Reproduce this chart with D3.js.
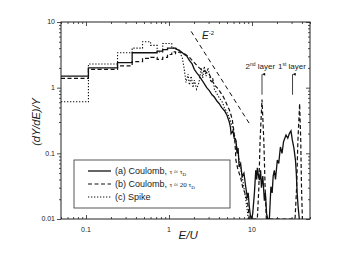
<!DOCTYPE html>
<html>
<head>
<meta charset="utf-8">
<script src="https://cdn.jsdelivr.net/npm/d3@7"></script>
<style>
body { margin: 0; background: #fff; }
svg { display: block; }
text, tspan { font-family: "Liberation Sans", Arial, sans-serif; fill: #1a1a1a; }
</style>
</head>
<body>
<div id="chart"></div>
<script>
// histogram part (bin edges in E/U, values in (dY/dE)/Y)
var binEdges = [0.05, 0.107, 0.24, 0.36, 0.48, 0.6, 0.72, 0.84, 0.96, 1.08, 1.2];
var histA = [1.5, 2.0, 2.4, 3.4, 3.4, 3.4, 3.6, 3.8, 4.0, 4.0];
var histB = [1.39, 1.9, 2.15, 2.5, 2.8, 2.9, 2.7, 2.9, 3.2, 3.5];
var histC = [0.61, 2.29, 3.4, 4.0, 5.0, 4.4, 3.5, 4.7, 4.7, 4.0];

// high energy tails [E/U, value]
var tailA = [[1.2,3.9],[1.33,3.7],[1.45,3.4],[1.53,3.2],[1.65,3.0],[1.76,2.6],[1.9,2.3],[2.02,1.9],[2.15,1.7],[2.32,1.5],
  [2.45,1.35],[2.66,1.15],[2.85,1.0],[3.06,0.9],[3.3,0.78],[3.52,0.72],[3.8,0.62],[4.04,0.57],[4.3,0.5],[4.64,0.45],
  [5.0,0.38],[5.33,0.3],[5.5,0.25],[5.6,0.2],[5.9,0.22],[6.1,0.17],[6.4,0.16],[6.6,0.1],[6.8,0.12],[7.0,0.062],
  [7.3,0.07],[7.6,0.044],[8.0,0.05],[8.4,0.031],[8.8,0.021],[9.0,0.025],[9.3,0.015],[9.6,0.011],[9.8,0.01],[10.2,0.012],
  [10.7,0.025],[11.1,0.055],[11.4,0.04],[11.6,0.06],[12.0,0.045],[12.3,0.039],[12.7,0.055],[13.0,0.03],[13.5,0.045],[14.1,0.019],
  [14.5,0.025],[15.0,0.012],[15.5,0.01],[16.2,0.01],[16.9,0.031],[17.5,0.025],[18.0,0.045],[18.6,0.055],[19.2,0.04],[20.2,0.079],
  [21.0,0.07],[22.0,0.125],[23.0,0.1],[24.0,0.15],[25.7,0.19],[27.0,0.17],[28.2,0.2],[29.5,0.22],[30.6,0.16],[32.0,0.12],
  [33.4,0.079],[34.2,0.05],[35.0,0.025],[36.0,0.015],[37.2,0.01]];
var tailB = [[1.2,3.3],[1.33,3.5],[1.45,3.4],[1.53,3.3],[1.65,3.1],[1.76,2.9],[1.9,2.6],[2.02,2.4],[2.15,2.2],[2.32,2.0],
  [2.5,1.85],[2.66,1.8],[2.85,1.7],[3.06,1.6],[3.3,1.3],[3.52,1.1],[3.8,1.0],[4.04,0.9],[4.4,0.77],[4.64,0.68],
  [5.0,0.55],[5.33,0.46],[5.6,0.38],[5.8,0.32],[6.1,0.2],[6.3,0.12],[6.4,0.079],[6.7,0.06],[7.0,0.05],[7.4,0.04],
  [7.7,0.031],[8.2,0.025],[8.8,0.019],[9.1,0.013],[9.3,0.01],[11.6,0.01],[12.1,0.03],[12.5,0.15],[13.2,0.66],[13.9,0.15],
  [14.4,0.03],[14.9,0.01],[33.0,0.01],[34.5,0.03],[35.7,0.15],[37.5,0.57],[38.7,0.15],[39.5,0.03],[40.5,0.01]];
var tailC = [[1.2,4.0],[1.33,3.7],[1.45,2.8],[1.53,1.9],[1.6,1.2],[1.7,1.6],[1.76,1.1],[1.85,1.5],[1.95,1.0],[2.02,1.3],
  [2.15,0.95],[2.3,1.2],[2.45,2.0],[2.55,1.4],[2.66,2.1],[2.8,1.5],[2.95,2.0],[3.06,1.6],[3.2,1.2],[3.4,1.4],
  [3.52,0.95],[3.8,0.8],[4.04,0.7],[4.4,0.6],[4.64,0.5],[5.0,0.42],[5.33,0.35],[5.7,0.27],[6.1,0.2],[6.4,0.15],
  [6.7,0.11],[7.0,0.08],[7.3,0.06],[7.6,0.045],[8.0,0.03],[8.4,0.02],[8.8,0.013],[9.0,0.01]];

// E^-2 guide
var guideE = [1.85, 9.3];
var guideC = 24.6;

var xMajor = [0.1, 1, 10];
var yMajor = [0.01, 0.1, 1, 10];
var legendNames = ["(a) Coulomb, ", "(b) Coulomb, ", "(c) Spike"];
var legendTau = ["\u03C4 \u2248 \u03C4", "\u03C4 \u2248 20 \u03C4", ""];

var margin = {top: 22, right: 44, bottom: 55, left: 61},
    width = 354 - margin.left - margin.right,
    height = 274 - margin.top - margin.bottom;

var svg = d3.select("#chart").append("svg")
    .attr("width", 354)
    .attr("height", 274);

var g = svg.append("g")
    .attr("transform", "translate(" + margin.left + "," + margin.top + ")");

var x = d3.scaleLog().domain([0.05, 50]).range([0, width]);
var y = d3.scaleLog().domain([0.01, 10]).range([height, 0]);

var defs = svg.append("defs");
defs.append("clipPath").attr("id", "clip")
  .append("rect").attr("width", width).attr("height", height);

var isMajor = function(t) { return Math.abs(Math.log10(t) - Math.round(Math.log10(t))) < 1e-6; };
var fmt = function(t) { return t >= 1 ? d3.format("d")(t) : String(+t.toPrecision(1)); };

var xMinor = x.ticks().filter(function(t){ return !isMajor(t); });
var yMinor = y.ticks().filter(function(t){ return !isMajor(t); });

var axisColor = "#222";
function tickAxis(axisFn, scale, values, size, tr) {
  var a = g.append("g")
    .attr("transform", tr || null)
    .call(axisFn(scale).tickValues(values).tickSize(size).tickFormat(""));
  a.select(".domain").remove();
  a.selectAll("line").attr("stroke", axisColor).attr("stroke-width", 0.8);
  return a;
}
// bottom / top: inward ticks
tickAxis(d3.axisBottom, x, xMajor, -4, "translate(0," + height + ")");
tickAxis(d3.axisBottom, x, xMinor, -2, "translate(0," + height + ")");
tickAxis(d3.axisTop, x, xMajor, -4);
tickAxis(d3.axisTop, x, xMinor, -2);
// left outward, right inward
tickAxis(d3.axisLeft, y, yMajor, 4);
tickAxis(d3.axisLeft, y, yMinor, 2);
tickAxis(d3.axisRight, y, yMajor, -4, "translate(" + width + ",0)");
tickAxis(d3.axisRight, y, yMinor, -2, "translate(" + width + ",0)");

g.selectAll(".xlab").data(xMajor).enter().append("text")
  .attr("x", function(d){ return x(d); })
  .attr("y", height + 13)
  .attr("text-anchor", "middle")
  .style("font-size", "7px")
  .text(fmt);

g.selectAll(".ylab").data(yMajor).enter().append("text")
  .attr("x", -6)
  .attr("y", function(d){ return y(d); })
  .attr("dy", "0.35em")
  .attr("text-anchor", "end")
  .style("font-size", "7px")
  .text(fmt);

g.append("rect").attr("width", width).attr("height", height)
  .attr("fill", "none").attr("stroke", axisColor).attr("stroke-width", 1);

// axis titles
g.append("text")
  .attr("x", x(1.7)).attr("y", height + 20)
  .attr("text-anchor", "middle")
  .style("font-size", "11.5px").style("font-style", "italic")
  .text("E/U");

g.append("text")
  .attr("transform", "translate(-21," + y(0.3) + ") rotate(-90)")
  .attr("text-anchor", "middle")
  .style("font-size", "11px").style("font-style", "italic")
  .text("(dY/dE)/Y");

// series
function seriesPoints(hist, tail) {
  var pts = [];
  hist.forEach(function(v, i) {
    pts.push([binEdges[i], v]);
    pts.push([binEdges[i + 1], v]);
  });
  return pts.concat(tail);
}

var line = d3.line()
  .x(function(d){ return x(d[0]); })
  .y(function(d){ return y(d[1]); });

var styles = [
  {dash: null, w: 1.3},
  {dash: "4,2.5", w: 1.2},
  {dash: "1.3,1.7", w: 1.1}
];
var series = [seriesPoints(histA, tailA), seriesPoints(histB, tailB), seriesPoints(histC, tailC)];

var plot = g.append("g").attr("clip-path", "url(#clip)");
series.forEach(function(s, i) {
  plot.append("path")
    .datum(s)
    .attr("d", line)
    .attr("fill", "none")
    .attr("stroke", "#111")
    .attr("stroke-width", styles[i].w)
    .attr("stroke-dasharray", styles[i].dash);
});

// E^-2 guide line
plot.append("path")
  .datum(guideE.map(function(e){ return [e, guideC / (e * e)]; }))
  .attr("d", line)
  .attr("fill", "none")
  .attr("stroke", "#111")
  .attr("stroke-width", 1)
  .attr("stroke-dasharray", "4.5,3.5");

var eLab = g.append("text")
  .attr("x", x(2.5)).attr("y", y(5.6))
  .style("font-size", "10px").style("font-style", "italic");
eLab.append("tspan").text("E");
eLab.append("tspan").attr("dy", -4).style("font-size", "6px").style("font-style", "normal").text("-2");

// layer annotations
var layers = [
  {e: 13.2, txtE: 12.6, n: "2", sup: "nd"},
  {e: 30.8, txtE: 30.3, n: "1", sup: "st"}
];
defs.append("marker")
  .attr("id", "arrow").attr("viewBox", "0 0 6 6")
  .attr("refX", 3).attr("refY", 0).attr("markerWidth", 4).attr("markerHeight", 5)
  .attr("orient", "auto-start-reverse")
  .append("path").attr("d", "M0,6L3,0L6,6Z").attr("fill", "#111");

layers.forEach(function(l) {
  g.append("line")
    .attr("x1", x(l.e)).attr("x2", x(l.e))
    .attr("y1", y(0.78)).attr("y2", y(1.6))
    .attr("stroke", "#111").attr("stroke-width", 0.8)
    .attr("marker-end", "url(#arrow)");
  var t = g.append("text")
    .attr("x", x(l.txtE)).attr("y", y(1.92))
    .attr("text-anchor", "middle")
    .style("font-size", "8px");
  t.append("tspan").text(l.n);
  t.append("tspan").attr("dy", -3).style("font-size", "5px").text(l.sup);
  t.append("tspan").attr("dy", 3).text(" layer");
});

// legend
var legend = g.append("g").attr("transform", "translate(13,138)");
legend.append("rect")
  .attr("width", 156).attr("height", 48)
  .attr("fill", "#fff").attr("stroke", "#444").attr("stroke-width", 0.9);

legendNames.forEach(function(name, i) {
  var yy = 11 + i * 13;
  legend.append("line")
    .attr("x1", 14).attr("x2", 37).attr("y1", yy).attr("y2", yy)
    .attr("stroke", "#111")
    .attr("stroke-width", styles[i].w)
    .attr("stroke-dasharray", styles[i].dash);
  var t = legend.append("text")
    .attr("x", 41).attr("y", yy).attr("dy", "0.35em")
    .style("font-size", "9px")
    .text(name);
  if (legendTau[i]) {
    t.append("tspan")
      .style("font-family", "'Liberation Serif', 'DejaVu Serif', serif")
      .style("font-size", "7px")
      .style("fill", "#1a1a1a")
      .text(legendTau[i]);
    t.append("tspan")
      .attr("dy", 2)
      .style("font-family", "'Liberation Serif', 'DejaVu Serif', serif")
      .style("font-size", "5px")
      .style("fill", "#1a1a1a")
      .text("D");
  }
});
</script>
</body>
</html>
